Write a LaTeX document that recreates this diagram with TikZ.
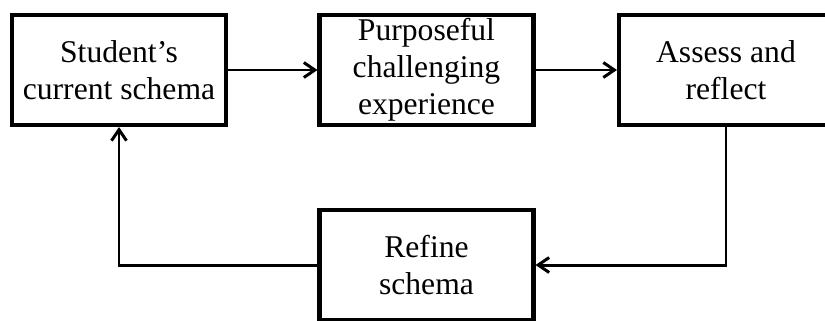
\documentclass[tikz,border=0pt]{standalone}
\usepackage{fontspec}
\setmainfont{Liberation Serif}
\usetikzlibrary{arrows.meta,positioning}
\tikzset{
  stage/.style={rectangle,draw=black,line width=2.3pt,fill=white,
                minimum width=4.28cm,minimum height=2.2cm,inner sep=2pt,
                align=center,font=\fontsize{18}{21}\selectfont},
  flow/.style={-{Straight Barb[length=2.2mm,width=3mm,line width=1.7pt]},
               line width=1.7pt},
}
\begin{document}
\begin{tikzpicture}
  \useasboundingbox (0,0) rectangle (16.5,-6.4);
  % top row
  \node[stage] (schema)  at (2.38,-1.4)  {Student's\\current schema};
  \node[stage] (task)    at (8.53,-1.4)  {Purposeful\\challenging\\experience};
  \node[stage] (assess)  at (14.52,-1.4) {Assess and\\reflect};
  % loop back
  \node[stage] (refine)  at (8.53,-5.3)  {Refine\\schema};
  \draw[flow] (schema) -- (task);
  \draw[flow] (task) -- (assess);
  \draw[flow] (assess.south) |- (refine.east);
  \draw[flow] (refine.west) -| (schema.south);
\end{tikzpicture}
\end{document}
